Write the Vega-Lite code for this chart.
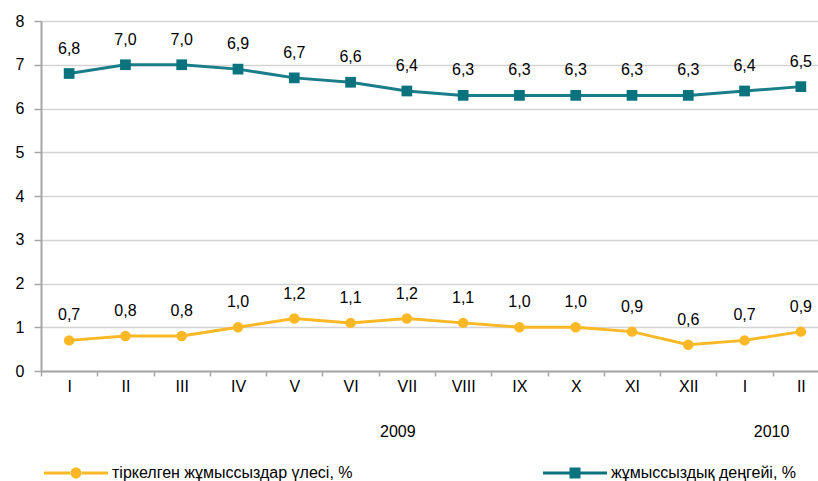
{
  "$schema": "https://vega.github.io/schema/vega-lite/v6.json",
  "width": 777,
  "height": 350,
  "autosize": {"type": "none"},
  "padding": {"left": 41, "top": 21, "right": 0, "bottom": 110},
  "background": "white",
  "config": {
    "view": {"stroke": null},
    "font": "Liberation Sans",
    "locale": {"number": {"decimal": ",", "thousands": " ", "grouping": [3], "currency": ["", ""]}},
    "legend": {
      "title": null,
      "orient": "none",
      "legendX": 25,
      "legendY": 442,
      "direction": "horizontal",
      "symbolSize": 400,
      "symbolStrokeWidth": 0,
      "symbolOpacity": 1,
      "labelFont": "Liberation Sans",
      "labelFontSize": 16,
      "labelColor": "#000000",
      "labelOffset": 26,
      "labelLimit": 400,
      "columnPadding": 190
    }
  },
  "datasets": {
    "main": [
      {"m": "I", "s": "тіркелген жұмыссыздар үлесі, %", "v": 0.7},
      {"m": "II", "s": "тіркелген жұмыссыздар үлесі, %", "v": 0.8},
      {"m": "III", "s": "тіркелген жұмыссыздар үлесі, %", "v": 0.8},
      {"m": "IV", "s": "тіркелген жұмыссыздар үлесі, %", "v": 1.0},
      {"m": "V", "s": "тіркелген жұмыссыздар үлесі, %", "v": 1.2},
      {"m": "VI", "s": "тіркелген жұмыссыздар үлесі, %", "v": 1.1},
      {"m": "VII", "s": "тіркелген жұмыссыздар үлесі, %", "v": 1.2},
      {"m": "VIII", "s": "тіркелген жұмыссыздар үлесі, %", "v": 1.1},
      {"m": "IX", "s": "тіркелген жұмыссыздар үлесі, %", "v": 1.0},
      {"m": "X", "s": "тіркелген жұмыссыздар үлесі, %", "v": 1.0},
      {"m": "XI", "s": "тіркелген жұмыссыздар үлесі, %", "v": 0.9},
      {"m": "XII", "s": "тіркелген жұмыссыздар үлесі, %", "v": 0.6},
      {"m": "I ", "s": "тіркелген жұмыссыздар үлесі, %", "v": 0.7},
      {"m": "II ", "s": "тіркелген жұмыссыздар үлесі, %", "v": 0.9},
      {"m": "I", "s": "жұмыссыздық деңгейі, %", "v": 6.8},
      {"m": "II", "s": "жұмыссыздық деңгейі, %", "v": 7.0},
      {"m": "III", "s": "жұмыссыздық деңгейі, %", "v": 7.0},
      {"m": "IV", "s": "жұмыссыздық деңгейі, %", "v": 6.9},
      {"m": "V", "s": "жұмыссыздық деңгейі, %", "v": 6.7},
      {"m": "VI", "s": "жұмыссыздық деңгейі, %", "v": 6.6},
      {"m": "VII", "s": "жұмыссыздық деңгейі, %", "v": 6.4},
      {"m": "VIII", "s": "жұмыссыздық деңгейі, %", "v": 6.3},
      {"m": "IX", "s": "жұмыссыздық деңгейі, %", "v": 6.3},
      {"m": "X", "s": "жұмыссыздық деңгейі, %", "v": 6.3},
      {"m": "XI", "s": "жұмыссыздық деңгейі, %", "v": 6.3},
      {"m": "XII", "s": "жұмыссыздық деңгейі, %", "v": 6.3},
      {"m": "I ", "s": "жұмыссыздық деңгейі, %", "v": 6.4},
      {"m": "II ", "s": "жұмыссыздық деңгейі, %", "v": 6.5}
    ]
  },
  "data": {"name": "main"},
  "encoding": {
    "x": {
      "field": "m",
      "type": "ordinal",
      "scale": {"domain": ["I", "II", "III", "IV", "V", "VI", "VII", "VIII", "IX", "X", "XI", "XII", "I ", "II "], "range": [0, 788]},
      "axis": {
        "title": null,
        "labelAngle": 0,
        "labelExpr": "trim(datum.label)",
        "domainColor": "#a6a6a6",
        "domainWidth": 2,
        "tickColor": "#a6a6a6",
        "tickWidth": 1.5,
        "tickSize": 5,
        "tickBand": "extent",
        "labelFontSize": 16,
        "labelColor": "#000000",
        "labelPadding": 2
      }
    },
    "y": {
      "field": "v",
      "type": "quantitative",
      "scale": {"domain": [0, 8], "nice": false},
      "axis": {
        "title": null,
        "values": [0, 1, 2, 3, 4, 5, 6, 7, 8],
        "grid": true,
        "gridColor": "#d4d4d4",
        "gridWidth": 1.5,
        "domainColor": "#a6a6a6",
        "domainWidth": 2,
        "tickColor": "#a6a6a6",
        "tickWidth": 1.5,
        "tickSize": 7,
        "labelFontSize": 16,
        "labelColor": "#000000",
        "labelPadding": 10
      }
    }
  },
  "layer": [
    {
      "mark": {"type": "line", "strokeWidth": 3},
      "encoding": {
        "stroke": {
          "field": "s",
          "type": "nominal",
          "scale": {"domain": ["тіркелген жұмыссыздар үлесі, %", "жұмыссыздық деңгейі, %"], "range": ["#fbb826", "#197e89"]}
        }
      }
    },
    {
      "transform": [{"filter": "false"}],
      "mark": {"type": "point", "filled": true, "opacity": 1, "size": 115},
      "encoding": {
        "color": {
          "field": "s",
          "type": "nominal",
          "scale": {"domain": ["тіркелген жұмыссыздар үлесі, %", "жұмыссыздық деңгейі, %"], "range": ["#fbb826", "#0b737e"]}
        },
        "shape": {
          "field": "s",
          "type": "nominal",
          "scale": {
            "domain": ["тіркелген жұмыссыздар үлесі, %", "жұмыссыздық деңгейі, %"],
            "range": [
              "M-3.2,-0.15H-0.5V0.15H-3.2Z M0.5,-0.15H3.2V0.15H0.5Z M-0.55,0A0.55,0.55,0,1,0,0.55,0A0.55,0.55,0,1,0,-0.55,0Z",
              "M-3.2,-0.15H-0.5V0.15H-3.2Z M0.5,-0.15H3.2V0.15H0.5Z M-0.55,-0.55H0.55V0.55H-0.55Z"
            ]
          }
        }
      }
    },
    {
      "transform": [{"filter": "datum.s === 'тіркелген жұмыссыздар үлесі, %'"}],
      "mark": {"type": "point", "shape": "circle", "filled": true, "opacity": 1, "size": 110},
      "encoding": {
        "color": {"field": "s", "type": "nominal"}
      }
    },
    {
      "transform": [{"filter": "datum.s === 'жұмыссыздық деңгейі, %'"}],
      "mark": {"type": "point", "shape": "square", "filled": true, "opacity": 1, "size": 115},
      "encoding": {
        "color": {"field": "s", "type": "nominal"}
      }
    },
    {
      "mark": {"type": "text", "dy": -25, "fontSize": 16, "color": "#000000"},
      "encoding": {
        "text": {"field": "v", "type": "quantitative", "format": ".1f"}
      }
    },
    {
      "data": {"values": [{"m": "VII", "yr": "2009"}]},
      "mark": {"type": "text", "dx": -9, "fontSize": 16, "color": "#000000", "y": {"expr": "scale('y', -1.4)"}},
      "encoding": {
        "y": null,
        "text": {"field": "yr", "type": "nominal"}
      }
    },
    {
      "data": {"values": [{"m": "I ", "yr": "2010"}]},
      "mark": {"type": "text", "dx": 27, "fontSize": 16, "color": "#000000", "y": {"expr": "scale('y', -1.4)"}},
      "encoding": {
        "y": null,
        "text": {"field": "yr", "type": "nominal"}
      }
    }
  ]
}
